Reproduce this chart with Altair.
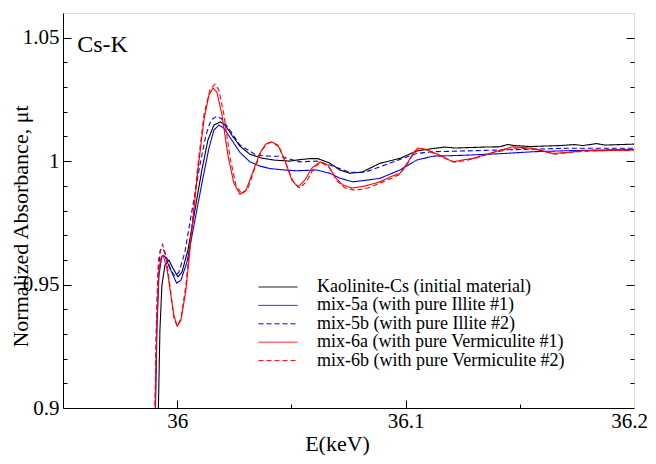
import altair as alt
import pandas as pd

# ---------------- data ----------------
series_names = [
    "Kaolinite-Cs (initial material)",
    "mix-5a (with pure Illite #1)",
    "mix-5b (with pure Illite #2)",
    "mix-6a (with pure Vermiculite #1)",
    "mix-6b (with pure Vermiculite #2)",
]
series_colors = ["#000000", "#0000ff", "#0000ff", "#ff0000", "#ff0000"]
series_dash = [[1, 0], [1, 0], [5, 3], [1, 0], [5, 3]]

kao_x = [35.99147, 35.99177, 35.99243, 35.9933, 35.99462, 35.99637, 35.99812, 36.0003, 36.00206,
         36.0047, 36.00775, 36.0108, 36.01344, 36.01606, 36.019, 36.02131, 36.02394, 36.02744,
         36.0318, 36.0371, 36.0427, 36.0493, 36.0537, 36.058, 36.0616, 36.0668, 36.0712, 36.0756,
         36.0808, 36.0887, 36.0975, 36.1048, 36.1119, 36.1172, 36.1216, 36.1281, 36.1347, 36.1412,
         36.1447, 36.1478, 36.1544, 36.1609, 36.1675, 36.1741, 36.1776, 36.1837, 36.1872, 36.1938, 36.2]
kao_y = [0.8848, 0.8998, 0.9315, 0.9497, 0.9578, 0.9599, 0.9566, 0.9531, 0.9550,
         0.9639, 0.9801, 0.9964, 1.0085, 1.0146, 1.0159, 1.0142, 1.0105, 1.0061,
         1.0028, 1.0012, 1.0004, 1.0000, 1.0006, 1.0010, 1.0010, 0.9992, 0.9964, 0.9951,
         0.9955, 0.9991, 1.0011, 1.0041, 1.0051, 1.0057, 1.0053, 1.0055, 1.0057, 1.0058,
         1.0067, 1.0063, 1.0059, 1.0061, 1.0063, 1.0067, 1.0063, 1.0071, 1.0065, 1.0067, 1.0069]

m5a_x = [35.99015, 35.9905, 35.99112, 35.992, 35.9933, 35.99462, 35.9968, 35.99974, 36.0016,
         36.00425, 36.00775, 36.01125, 36.0139, 36.01606, 36.0183, 36.0204, 36.02394, 36.02744,
         36.0318, 36.0362, 36.0405, 36.0471, 36.0522, 36.061, 36.0668, 36.0712, 36.0769, 36.0887,
         36.0975, 36.1048, 36.1119, 36.1264, 36.1412, 36.1557, 36.1701, 36.185, 36.2]
m5a_y = [0.8848, 0.8998, 0.9315, 0.9538, 0.9615, 0.9615, 0.9566, 0.9506, 0.9517,
         0.9590, 0.9761, 0.9931, 1.0053, 1.0126, 1.0146, 1.0134, 1.0085, 1.0036,
         0.9997, 0.9980, 0.9970, 0.9964, 0.9961, 0.9964, 0.9951, 0.9931, 0.9916, 0.9930,
         0.9964, 1.0004, 1.0020, 1.0024, 1.0030, 1.0038, 1.0042, 1.0045, 1.0047]

m5b_x = [35.99002, 35.99033, 35.9909, 35.99155, 35.99265, 35.99374, 35.9955, 35.99724, 35.99899,
         36.00074, 36.00337, 36.00687, 36.00993, 36.01256, 36.01475, 36.01738, 36.0196, 36.02306,
         36.02744, 36.0347, 36.0405, 36.0449, 36.0537, 36.061, 36.0668, 36.0756, 36.0821, 36.0887,
         36.0975, 36.1048, 36.1119, 36.1412, 36.1701, 36.2]
m5b_y = [0.8848, 0.8998, 0.9315, 0.9538, 0.9640, 0.9647, 0.9607, 0.9558, 0.9534,
         0.9550, 0.9631, 0.9822, 0.9984, 1.0105, 1.0166, 1.0182, 1.0170, 1.0126,
         1.0065, 1.0024, 1.0020, 1.0020, 0.9997, 1.0000, 0.9984, 0.9955, 0.9955, 0.9977,
         1.0007, 1.0031, 1.0038, 1.0045, 1.0052, 1.0052]

m6a_x = [35.99002, 35.99037, 35.99112, 35.992, 35.99287, 35.99387, 35.9955, 35.99724, 35.99855,
         36.0, 36.00162, 36.00381, 36.00643, 36.00906, 36.0117, 36.0139, 36.01562, 36.01738,
         36.0196, 36.0222, 36.0248, 36.02744, 36.0301, 36.0331, 36.0362, 36.0388, 36.0413,
         36.0441, 36.0471, 36.0502, 36.0529, 36.0559, 36.059, 36.0625, 36.066, 36.0695, 36.0726,
         36.0765, 36.0822, 36.0887, 36.094, 36.0975, 36.101, 36.1036, 36.1053, 36.1084, 36.115,
         36.1207, 36.1246, 36.1294, 36.1369, 36.1469, 36.1557, 36.1644, 36.1718, 36.1775,
         36.1894, 36.2]
m6a_y = [0.8848, 0.8998, 0.9355, 0.9558, 0.9607, 0.9619, 0.9566, 0.9457, 0.9376,
         0.9331, 0.9355, 0.9477, 0.9720, 0.9964, 1.0166, 1.0268, 1.0296, 1.0280,
         1.0187, 1.0024, 0.9911, 0.9866, 0.9882, 0.9955, 1.0032, 1.0069, 1.0078,
         1.0065, 1.0004, 0.9923, 0.9895, 0.9923, 0.9972, 0.9997, 0.9984, 0.9931, 0.9903,
         0.9891, 0.9899, 0.9916, 0.9939, 0.9950, 0.9996, 1.0036, 1.0053, 1.0049, 1.0024,
         0.9997, 1.0004, 1.0011, 1.0032, 1.0058, 1.0052, 1.0031, 1.0036, 1.0042,
         1.0043, 1.0045]

m6b_x = [35.99002, 35.99024, 35.9909, 35.99177, 35.99265, 35.9936, 35.99505, 35.9968, 35.99855,
         36.0001, 36.00162, 36.00381, 36.00643, 36.00906, 36.0117, 36.01432, 36.0165, 36.01826,
         36.02048, 36.0231, 36.0257, 36.0283, 36.031, 36.034, 36.0371, 36.0397, 36.0419,
         36.0449, 36.048, 36.0511, 36.0537, 36.0568, 36.0598, 36.0629, 36.0664, 36.07, 36.0735,
         36.0779, 36.0836, 36.0887, 36.094, 36.0975, 36.101, 36.1036, 36.1062, 36.1093, 36.1159,
         36.1216, 36.1259, 36.1307, 36.1377, 36.1478, 36.1566, 36.1653, 36.1727, 36.1806,
         36.1902, 36.2]
m6b_y = [0.8848, 0.8998, 0.9355, 0.9599, 0.9640, 0.9663, 0.9619, 0.9497, 0.9363,
         0.9331, 0.9363, 0.9497, 0.9740, 0.9984, 1.0187, 1.0288, 1.0312, 1.0288,
         1.0187, 1.0016, 0.9903, 0.9866, 0.9890, 0.9972, 1.0045, 1.0073, 1.0077,
         1.0053, 0.9980, 0.9911, 0.9891, 0.9919, 0.9972, 0.9996, 0.9976, 0.9919, 0.9891,
         0.9882, 0.9891, 0.9911, 0.9931, 0.9947, 0.9992, 1.0032, 1.0049, 1.0045, 1.0016,
         0.9996, 1.0002, 1.0012, 1.0032, 1.0053, 1.0049, 1.0028, 1.0036, 1.0041,
         1.0043, 1.0045]

x_major = [36.0, 36.1, 36.2]
x_minor_all = [36.0, 36.05, 36.1, 36.15]
y_major = [0.9, 0.95, 1.0, 1.05]
y_minor_all = [0.91, 0.92, 0.93, 0.94, 0.95, 0.96, 0.97, 0.98, 0.99, 1.0,
               1.01, 1.02, 1.03, 1.04, 1.05]

label_text = ["Cs-K"]
label_x = [35.9562]
label_y = [1.047]

# ---------------- build table ----------------
frames = []
for i, (xs, ys) in enumerate([(kao_x, kao_y), (m5a_x, m5a_y), (m5b_x, m5b_y),
                              (m6a_x, m6a_y), (m6b_x, m6b_y)]):
    frames.append(pd.DataFrame({"E": xs, "A": ys, "series": series_names[i], "order": i}))
df = pd.concat(frames, ignore_index=True)

FONT = "Liberation Serif, Times New Roman, Times, DejaVu Serif, serif"
W, H = 571, 395
xdom = [35.95, 36.2]
ydom = [0.9, 1.06]

xscale = alt.Scale(domain=xdom, nice=False, zero=False)
yscale = alt.Scale(domain=ydom, nice=False, zero=False)

color_enc = alt.Color("series:N", scale=alt.Scale(domain=series_names, range=series_colors),
                      legend=alt.Legend(title=None, orient="none", legendX=195, legendY=265,
                                        symbolType="stroke", symbolSize=1521, symbolStrokeWidth=1,
                                        clipHeight=18, rowPadding=0.4, labelOffset=19,
                                        labelFont=FONT, labelFontSize=18, labelColor="black",
                                        labelLimit=400, padding=0, symbolOffset=0))
dash_enc = alt.StrokeDash("series:N", scale=alt.Scale(domain=series_names, range=series_dash),
                          legend=None)

last_label_shift = {"condition": {"test": "datum.value > 36.19", "value": -5}, "value": 0}

lines = alt.Chart(df).mark_line(strokeWidth=1.1, clip=True).encode(
    x=alt.X("E:Q", scale=xscale,
            axis=alt.Axis(orient="bottom", values=x_major, format="~g", ticks=False, tickSize=0,
                          labelFont=FONT, labelFontSize=21, labelColor="black", labelPadding=2,
                          labelOffset=last_label_shift,
                          domainColor="black", grid=False, title="E(keV)", titleFont=FONT,
                          titleFontSize=22, titleFontWeight="normal", titleColor="black",
                          titleX=274, titleY=35, titleBaseline="middle", titleAlign="center",
                          labelFlush=False, labelOverlap=False)),
    y=alt.Y("A:Q", scale=yscale,
            axis=alt.Axis(orient="left", values=y_major, format="~g", ticks=False, tickSize=0,
                          labelFont=FONT, labelFontSize=21, labelColor="black", labelPadding=4,
                          domainColor="black", grid=False, title="Normalized Absorbance, \u03bct",
                          titleFont=FONT, titleFontSize=22, titleFontWeight="normal",
                          titleColor="black", titleX=-43, titleY=213, titleAngle=-90,
                          titleBaseline="middle", titleAlign="center",
                          labelFlush=False, labelOverlap=False)),
    color=color_enc,
    strokeDash=dash_enc,
    order="order:Q",
    detail="series:N",
)

x_tick_size = {"condition": {"test": "abs(datum.value*10 - round(datum.value*10)) < 0.001",
                             "value": 8}, "value": 4}
y_tick_size = {"condition": {"test": "abs(datum.value*20 - round(datum.value*20)) < 0.001",
                             "value": 8}, "value": 4}

# inner ticks along bottom and left border
ticks_bl = alt.Chart(df).mark_line(strokeOpacity=0, clip=True).encode(
    x=alt.X("E:Q", scale=xscale,
            axis=alt.Axis(orient="top", offset=-H, values=x_minor_all, labels=False, domain=False,
                          ticks=True, tickSize=x_tick_size, tickColor="black", grid=False,
                          title=None)),
    y=alt.Y("A:Q", scale=yscale,
            axis=alt.Axis(orient="right", offset=-W, values=y_minor_all, labels=False,
                          domain=False, ticks=True, tickSize=y_tick_size, tickColor="black",
                          grid=False, title=None)),
    detail="series:N",
)

# inner ticks along right border
ticks_r = alt.Chart(df).mark_line(strokeOpacity=0, clip=True).encode(
    x=alt.X("E:Q", scale=xscale, axis=None),
    y=alt.Y("A:Q", scale=yscale,
            axis=alt.Axis(orient="left", offset=-W, values=y_minor_all, labels=False,
                          domain=False, ticks=True, tickSize=y_tick_size, tickColor="black",
                          grid=False, title=None)),
    detail="series:N",
)

ann_df = pd.DataFrame({"x": label_x, "y": label_y, "t": label_text})
ann = alt.Chart(ann_df).mark_text(font=FONT, fontSize=24, color="black", align="left",
                                  baseline="middle").encode(
    x=alt.X("x:Q", scale=xscale, axis=None),
    y=alt.Y("y:Q", scale=yscale, axis=None),
    text="t:N",
)

chart = alt.layer(lines, ticks_bl, ticks_r, ann).resolve_axis(
    x="independent", y="independent"
).properties(
    width=W, height=H,
    autosize=alt.AutoSizeParams(type="none"),
    padding={"left": 55, "top": 5, "right": 14, "bottom": 48},
).configure_view(stroke="black", strokeWidth=1).configure(background="white")

chart.save("out.html", embed_options={"renderer": "svg", "actions": False})
